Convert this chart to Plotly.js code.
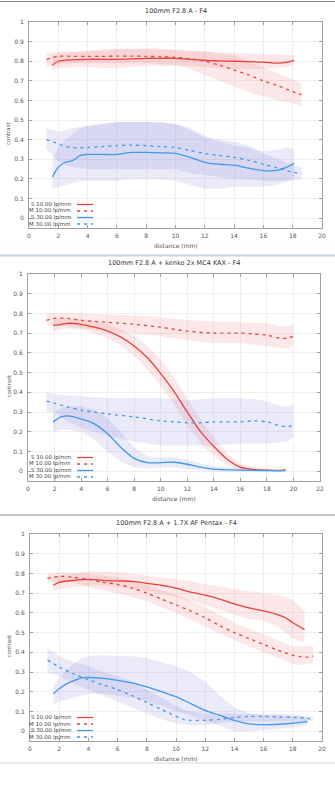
<!DOCTYPE html>
<html><head><meta charset="utf-8">
<script src="https://cdn.plot.ly/plotly-3.0.1.min.js"></script>
<style>html,body{margin:0;padding:0;background:#fff}#c{width:335px;height:800px}</style>
</head><body><div id="c"></div>
<script>
// ---------- Panel 1: 100mm F2.8 A - F4 ----------
const p1_title = "100mm F2.8 A - F4";
const p1_xS10 = [1.6,2,3,4,5,6,7,8,9,10,11,12,13,14,15,16,17,17.6,18.1];
const p1_S10  = [0.78,0.80,0.808,0.81,0.81,0.81,0.812,0.815,0.815,0.815,0.81,0.805,0.802,0.80,0.798,0.795,0.79,0.795,0.805];
const p1_S10hi= [0.83,0.84,0.845,0.85,0.855,0.86,0.86,0.86,0.86,0.855,0.85,0.85,0.845,0.845,0.84,0.84,0.835,0.835,0.83];
const p1_S10lo= [0.76,0.765,0.77,0.77,0.765,0.765,0.77,0.775,0.775,0.78,0.775,0.77,0.765,0.76,0.76,0.76,0.765,0.77,0.78];
const p1_xM10 = [1.2,2,3,4,5,6,7,8,9,10,11,12,13,14,15,16,17,18,18.6];
const p1_M10  = [0.81,0.825,0.825,0.825,0.825,0.826,0.826,0.825,0.823,0.82,0.812,0.80,0.78,0.755,0.73,0.70,0.675,0.645,0.63];
const p1_M10hi= [0.84,0.85,0.85,0.855,0.86,0.865,0.865,0.865,0.865,0.86,0.855,0.85,0.84,0.83,0.80,0.77,0.74,0.71,0.69];
const p1_M10lo= [0.77,0.785,0.79,0.79,0.79,0.79,0.79,0.79,0.785,0.78,0.76,0.73,0.70,0.67,0.645,0.62,0.60,0.585,0.57];
const p1_xS30 = [1.6,2,2.5,3,3.5,4,5,6,7,8,9,10,11,12,13,14,15,16,17,17.6,18.1];
const p1_S30  = [0.21,0.26,0.285,0.295,0.32,0.325,0.325,0.325,0.335,0.335,0.333,0.33,0.31,0.285,0.275,0.27,0.255,0.242,0.245,0.26,0.28];
const p1_S30hi= [0.30,0.36,0.40,0.43,0.46,0.47,0.48,0.49,0.49,0.49,0.49,0.48,0.45,0.41,0.39,0.37,0.36,0.34,0.35,0.36,0.35];
const p1_S30lo= [0.15,0.16,0.17,0.18,0.19,0.19,0.19,0.19,0.2,0.2,0.2,0.19,0.17,0.15,0.15,0.16,0.16,0.16,0.17,0.19,0.2];
const p1_xM30 = [1.2,1.6,2,2.5,3,4,5,6,7,8,9,10,11,12,13,14,15,16,17,18,18.6];
const p1_M30  = [0.40,0.39,0.38,0.365,0.36,0.36,0.365,0.37,0.372,0.37,0.365,0.36,0.345,0.33,0.32,0.31,0.295,0.275,0.255,0.235,0.225];
const p1_M30hi= [0.46,0.45,0.44,0.45,0.46,0.47,0.48,0.49,0.49,0.49,0.485,0.48,0.46,0.42,0.40,0.39,0.37,0.33,0.30,0.27,0.265];
const p1_M30lo= [0.35,0.32,0.29,0.27,0.26,0.25,0.25,0.25,0.25,0.25,0.25,0.25,0.23,0.22,0.21,0.20,0.20,0.19,0.19,0.19,0.20];

// ---------- Panel 2: 100mm F2.8 A + kenko 2x MC4 KAX - F4 ----------
const p2_title = "100mm F2.8 A + kenko 2x MC4 KAX - F4";
const p2_xS10 = [1.9,2.5,3,4,5,6,7,8,9,10,11,12,13,14,15,16,17,18,19,19.4];
const p2_S10  = [0.74,0.745,0.75,0.745,0.73,0.71,0.68,0.635,0.575,0.495,0.405,0.30,0.20,0.125,0.06,0.02,0.008,0.005,0.003,0.008];
const p2_S10hi= [0.77,0.775,0.775,0.77,0.76,0.745,0.72,0.685,0.635,0.565,0.475,0.37,0.265,0.17,0.09,0.04,0.02,0.012,0.01,0.012];
const p2_S10lo= [0.71,0.72,0.725,0.72,0.70,0.675,0.64,0.585,0.515,0.43,0.34,0.235,0.14,0.075,0.03,0.005,0.0,0.0,0.0,0.002];
const p2_xM10 = [1.4,2,3,4,5,6,8,10,12,14,16,17,18,19,19.6,20];
const p2_M10  = [0.765,0.775,0.775,0.765,0.76,0.755,0.745,0.73,0.71,0.70,0.70,0.695,0.69,0.675,0.675,0.685];
const p2_M10hi= [0.80,0.80,0.80,0.80,0.795,0.795,0.79,0.78,0.765,0.76,0.755,0.75,0.75,0.735,0.735,0.745];
const p2_M10lo= [0.74,0.74,0.735,0.725,0.72,0.71,0.70,0.685,0.665,0.65,0.65,0.64,0.635,0.625,0.62,0.64];
const p2_xS30 = [1.9,2.5,3,4,5,6,7,8,9,10,11,12,13,14,16,18,19.4];
const p2_S30  = [0.25,0.275,0.28,0.265,0.24,0.19,0.12,0.065,0.043,0.043,0.045,0.035,0.02,0.01,0.005,0.003,0.003];
const p2_S30hi= [0.30,0.32,0.33,0.33,0.31,0.27,0.20,0.12,0.075,0.07,0.07,0.06,0.04,0.025,0.015,0.01,0.008];
const p2_S30lo= [0.20,0.21,0.21,0.20,0.16,0.10,0.05,0.02,0.015,0.018,0.02,0.012,0.005,0.0,0.0,0.0,0.0];
const p2_xM30 = [1.4,2,3,4,5,6,8,10,11,12,13,14,16,17,18,19,19.6,20];
const p2_M30  = [0.355,0.345,0.325,0.31,0.30,0.29,0.275,0.255,0.25,0.245,0.245,0.25,0.25,0.255,0.25,0.23,0.225,0.235];
const p2_M30hi= [0.40,0.39,0.385,0.38,0.375,0.37,0.37,0.37,0.365,0.36,0.365,0.37,0.37,0.365,0.355,0.33,0.33,0.34];
const p2_M30lo= [0.30,0.30,0.25,0.22,0.20,0.18,0.15,0.13,0.13,0.13,0.13,0.13,0.14,0.14,0.14,0.145,0.15,0.17];

// ---------- Panel 3: 100mm F2.8 A + 1.7X AF Pentax - F4 ----------
const p3_title = "100mm F2.8 A + 1.7X AF Pentax - F4";
const p3_xS10 = [1.6,2,3,4,5,6,7,8,9,10,11,12,13,14,15,16,17,17.5,18,18.8];
const p3_S10  = [0.74,0.755,0.765,0.77,0.765,0.762,0.76,0.75,0.74,0.725,0.705,0.69,0.67,0.645,0.625,0.61,0.59,0.575,0.55,0.515];
const p3_S10hi= [0.78,0.79,0.80,0.81,0.81,0.805,0.80,0.79,0.78,0.77,0.76,0.745,0.735,0.72,0.71,0.70,0.69,0.68,0.665,0.61];
const p3_S10lo= [0.71,0.72,0.73,0.74,0.74,0.73,0.72,0.71,0.695,0.68,0.66,0.64,0.615,0.59,0.57,0.56,0.53,0.50,0.47,0.445];
const p3_xM10 = [1.2,2,3,4,5,6,7,8,9,10,11,12,13,14,15,16,17,18,18.5,19,19.4];
const p3_M10  = [0.775,0.785,0.78,0.77,0.755,0.745,0.725,0.70,0.67,0.64,0.61,0.575,0.535,0.50,0.47,0.44,0.41,0.385,0.378,0.375,0.38];
const p3_M10hi= [0.80,0.805,0.80,0.80,0.79,0.78,0.76,0.74,0.715,0.69,0.66,0.63,0.59,0.55,0.52,0.49,0.46,0.43,0.43,0.43,0.43];
const p3_M10lo= [0.75,0.76,0.755,0.73,0.715,0.70,0.68,0.66,0.63,0.60,0.565,0.53,0.495,0.46,0.43,0.40,0.37,0.34,0.335,0.34,0.345];
const p3_xS30 = [1.6,2,2.5,3,3.5,4,5,6,7,8,9,10,11,12,13,14,15,16,17,18,19];
const p3_S30  = [0.19,0.215,0.24,0.255,0.27,0.272,0.268,0.258,0.245,0.225,0.20,0.175,0.14,0.105,0.08,0.055,0.037,0.033,0.035,0.04,0.048];
const p3_S30hi= [0.23,0.27,0.31,0.34,0.37,0.38,0.385,0.38,0.38,0.37,0.35,0.33,0.30,0.25,0.18,0.12,0.09,0.08,0.08,0.075,0.07];
const p3_S30lo= [0.135,0.15,0.16,0.17,0.18,0.19,0.19,0.18,0.17,0.15,0.13,0.10,0.08,0.05,0.03,0.0,0.0,0.005,0.01,0.02,0.03];
const p3_xM30 = [1.2,2,3,4,5,6,7,8,9,10,10.5,11,12,13,14,15,16,17,18,19,19.4];
const p3_M30  = [0.36,0.325,0.29,0.26,0.235,0.21,0.18,0.145,0.11,0.075,0.06,0.055,0.055,0.06,0.07,0.075,0.075,0.072,0.07,0.065,0.058];
const p3_M30hi= [0.42,0.38,0.35,0.33,0.30,0.28,0.25,0.21,0.17,0.13,0.11,0.10,0.09,0.09,0.09,0.09,0.09,0.088,0.085,0.075,0.07];
const p3_M30lo= [0.30,0.28,0.24,0.21,0.18,0.15,0.12,0.09,0.06,0.04,0.035,0.03,0.03,0.04,0.05,0.05,0.05,0.05,0.05,0.05,0.05];

const legendLabels = ["S 10.00 lp/mm","M 10.00 lp/mm","S 30.00 lp/mm","M 30.00 lp/mm"];
const xTickMax = [20, 22, 20];

// ---------- styling ----------
const RED = "rgb(232,64,60)", BLUE = "rgb(64,152,240)";
const REDFILL = "rgba(232,90,90,0.14)", BLUEFILL = "rgba(105,105,215,0.14)";
const FONT = "DejaVu Sans, Liberation Sans, sans-serif";
const W = 335, H = 800;
const px = v => v / W, py = v => 1 - v / H;

const panels = [
  {t:p1_title, s10:[p1_xS10,p1_S10,p1_S10hi,p1_S10lo], m10:[p1_xM10,p1_M10,p1_M10hi,p1_M10lo], s30:[p1_xS30,p1_S30,p1_S30hi,p1_S30lo], m30:[p1_xM30,p1_M30,p1_M30hi,p1_M30lo], L:29, R:322, T:22, B:228},
  {t:p2_title, s10:[p2_xS10,p2_S10,p2_S10hi,p2_S10lo], m10:[p2_xM10,p2_M10,p2_M10hi,p2_M10lo], s30:[p2_xS30,p2_S30,p2_S30hi,p2_S30lo], m30:[p2_xM30,p2_M30,p2_M30hi,p2_M30lo], L:28, R:320, T:274, B:481},
  {t:p3_title, s10:[p3_xS10,p3_S10,p3_S10hi,p3_S10lo], m10:[p3_xM10,p3_M10,p3_M10hi,p3_M10lo], s30:[p3_xS30,p3_S30,p3_S30hi,p3_S30lo], m30:[p3_xM30,p3_M30,p3_M30hi,p3_M30lo], L:30, R:322, T:534, B:741}
];

const traces = [], annotations = [], shapes = [];
const layout = {width:W, height:H, margin:{l:0,r:0,t:0,b:0}, paper_bgcolor:"#fff", plot_bgcolor:"#fff",
  showlegend:false, font:{family:FONT, size:6, color:"#555"}};

panels.forEach((p, i) => {
  const n = i === 0 ? "" : String(i + 1);
  const xa = "x" + n, ya = "y" + n;
  const band = (d, fc) => traces.push({x: d[0].concat(d[0].slice().reverse()), y: d[2].concat(d[3].slice().reverse()),
    xaxis:xa, yaxis:ya, type:"scatter", mode:"lines", fill:"toself", fillcolor:fc, line:{width:0}, hoverinfo:"skip"});
  const line = (d, c, dash) => traces.push({x:d[0], y:d[1], xaxis:xa, yaxis:ya, type:"scatter", mode:"lines",
    line:{color:c, width:1.3, dash:dash, shape:"spline", smoothing:0.8}});
  band(p.s10, REDFILL); band(p.m10, REDFILL); band(p.s30, BLUEFILL); band(p.m30, BLUEFILL);
  line(p.s10, RED, "solid"); line(p.m10, RED, "3px,4px"); line(p.s30, BLUE, "solid"); line(p.m30, BLUE, "3px,4px");

  const common = {showline:true, linecolor:"#a0a0a0", linewidth:1, mirror:"ticks", ticks:"inside", ticklen:3,
    tickcolor:"#a0a0a0", showgrid:true, gridcolor:"#efefef", gridwidth:1, zeroline:false,
    tickfont:{family:FONT, size:6, color:"#555555"}, fixedrange:true};
  layout["xaxis" + n] = Object.assign({}, common, {domain:[px(p.L), px(p.R)], range:[0, xTickMax[i]], dtick:2, tick0:0,
    anchor:ya, ticklabelstandoff:2});
  layout["yaxis" + n] = Object.assign({}, common, {domain:[py(p.B), py(p.T)], range:[-0.05, 1], dtick:0.1, tick0:0,
    anchor:xa, ticklabelstandoff:3});

  annotations.push({text:p.t, xref:"paper", yref:"paper", x:px((p.L + p.R) / 2), y:py(p.T - 11), showarrow:false,
    xanchor:"center", yanchor:"middle", font:{family:FONT, size:6.5, color:"#333"}});
  annotations.push({text:"distance (mm)", xref:"paper", yref:"paper", x:px((p.L + p.R) / 2), y:py(p.B + 17), showarrow:false,
    xanchor:"center", yanchor:"middle", font:{family:FONT, size:6, color:"#555"}});
  annotations.push({text:"contrast", xref:"paper", yref:"paper", x:px(8), y:py((p.T + p.B) / 2 + 8), showarrow:false,
    textangle:-90, xanchor:"center", yanchor:"middle", font:{family:FONT, size:5.5, color:"#555"}});

  const cols = [RED, RED, BLUE, BLUE], dashed = [false, true, false, true];
  legendLabels.forEach((lab, k) => {
    const yy = p.B - 23.5 + k * 6.5;
    annotations.push({text:lab, xref:"paper", yref:"paper", x:px(73), y:py(yy), showarrow:false,
      xanchor:"right", yanchor:"middle", font:{family:FONT, size:5.5, color:"#444"}});
    shapes.push({type:"line", xref:"paper", yref:"paper", x0:px(77), x1:px(93), y0:py(yy), y1:py(yy),
      line:{color:cols[k], width:1.3, dash:dashed[k] ? "3px,4px" : "solid"}});
  });
});

shapes.push({type:"line", xref:"paper", yref:"paper", x0:0, x1:1, y0:py(1.5), y1:py(1.5), line:{color:"#8a8a8a", width:1}});
shapes.push({type:"line", xref:"paper", yref:"paper", x0:0, x1:1, y0:py(255.5), y1:py(255.5), line:{color:"#c9d3de", width:2}});
shapes.push({type:"line", xref:"paper", yref:"paper", x0:0, x1:1, y0:py(515), y1:py(515), line:{color:"#8a8a8a", width:1}});
shapes.push({type:"line", xref:"paper", yref:"paper", x0:0, x1:1, y0:py(763), y1:py(763), line:{color:"#e6e6df", width:1.5}});

layout.annotations = annotations;
layout.shapes = shapes;
Plotly.newPlot("c", traces, layout, {staticPlot:true, displayModeBar:false});
</script></body></html>
